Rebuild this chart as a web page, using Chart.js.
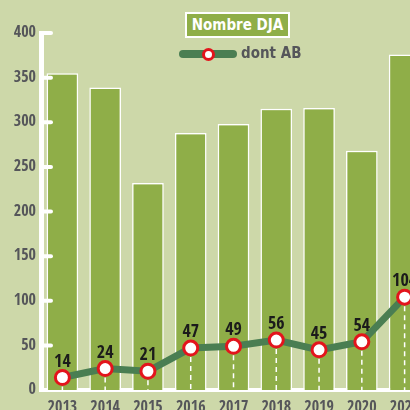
<!DOCTYPE html>
<html>
<head>
<meta charset="utf-8">
<script src="https://cdn.jsdelivr.net/npm/chart.js@4.4.1/dist/chart.umd.min.js"></script>
<style>
  html,body{margin:0;padding:0;background:#cdd8a9;overflow:hidden;}
  #wrap{position:relative;width:410px;height:410px;overflow:hidden;background:#cdd8a9;}
  #c{position:absolute;left:0;top:0;}
  .lg{position:absolute;font-family:"DejaVu Sans Condensed","DejaVu Sans",sans-serif;font-stretch:condensed;font-weight:bold;font-size:15px;}
  #lgBar{left:185px;top:12px;width:101px;height:22px;background:#8fae48;border:2px solid #fff;color:#fff;text-align:center;line-height:22px;}
  #lgLine{left:179px;top:50px;width:58px;height:8px;background:#4a7e52;border-radius:4px;}
  #lgDot{left:202px;top:48px;width:7px;height:7px;border:3px solid #e3141c;border-radius:50%;background:#fff;}
  #lgLineTxt{left:241px;top:44px;color:#55565a;line-height:18px;}
</style>
</head>
<body>
<div id="wrap">
  <canvas id="c" width="436" height="410"></canvas>
  <div class="lg" id="lgBar">Nombre DJA</div>
  <div class="lg" id="lgLine"></div>
  <div class="lg" id="lgDot"></div>
  <div class="lg" id="lgLineTxt">dont AB</div>
</div>
<script>
const years = ['2013','2014','2015','2016','2017','2018','2019','2020','2021'];
const djaValues = [355, 339, 232, 288, 298, 315, 316, 268, 376];
const abValues = [14, 24, 21, 47, 49, 56, 45, 54, 104];
const yMin = 0, yMax = 400, yStep = 50;

const FONT = '"Noto Sans ExtraCondensed","Open Sans Condensed","Noto Sans Condensed","DejaVu Sans Condensed",sans-serif';

const inwardTicks = {
  id: 'inwardTicks',
  afterDraw(chart) {
    const y = chart.scales.y, ctx = chart.ctx, left = chart.chartArea.left;
    ctx.save();
    ctx.strokeStyle = '#ffffff';
    ctx.lineWidth = 4;
    ctx.lineCap = 'round';
    y.ticks.forEach(t => {
      if (t.value === 0) return;
      const py = y.getPixelForValue(t.value);
      ctx.beginPath();
      ctx.moveTo(left, py);
      ctx.lineTo(left + 10, py);
      ctx.stroke();
    });
    ctx.restore();
  }
};

const dropLines = {
  id: 'dropLines',
  beforeDatasetDraw(chart, args) {
    if (args.index !== 1) return;
    const meta = chart.getDatasetMeta(1), ctx = chart.ctx;
    const bottom = chart.scales.y.getPixelForValue(0);
    ctx.save();
    ctx.strokeStyle = '#ffffff';
    ctx.lineWidth = 1.5;
    ctx.setLineDash([5, 4]);
    meta.data.forEach(p => {
      ctx.beginPath();
      ctx.moveTo(p.x, p.y + 9);
      ctx.lineTo(p.x, bottom);
      ctx.stroke();
    });
    ctx.restore();
  }
};

const valueLabels = {
  id: 'valueLabels',
  afterDatasetsDraw(chart) {
    const meta = chart.getDatasetMeta(1), ctx = chart.ctx;
    ctx.save();
    ctx.fillStyle = '#1b1b1b';
    ctx.font = 'bold 18px ' + FONT;
    ctx.textAlign = 'center';
    ctx.textBaseline = 'alphabetic';
    meta.data.forEach((p, i) => {
      ctx.fillText(String(abValues[i]), p.x, p.y - 11);
    });
    ctx.restore();
  }
};

new Chart(document.getElementById('c'), {
  data: {
    labels: years,
    datasets: [
      {
        type: 'bar',
        label: 'Nombre DJA',
        data: djaValues,
        backgroundColor: '#8fae48',
        borderColor: '#ffffff',
        borderWidth: 1.5,
        barPercentage: 0.74,
        categoryPercentage: 1,
        order: 2
      },
      {
        type: 'line',
        label: 'dont AB',
        data: abValues,
        borderColor: '#4a7e52',
        borderWidth: 7,
        tension: 0,
        pointRadius: 7,
        pointBorderWidth: 3,
        pointBorderColor: '#e3141c',
        pointBackgroundColor: '#ffffff',
        order: 1
      }
    ]
  },
  options: {
    responsive: false,
    animation: false,
    devicePixelRatio: 1,
    layout: { padding: { top: 33, left: 0, right: 0, bottom: 0 } },
    plugins: { legend: { display: false }, tooltip: { enabled: false } },
    scales: {
      x: {
        z: 1,
        grid: { display: false, drawTicks: false },
        border: { color: '#ffffff', width: 4 },
        ticks: { color: '#55565a', font: { family: FONT, weight: 'bold', size: 16 }, padding: 8, maxRotation: 0, autoSkip: false },
        afterFit: s => { s.height = 20; }
      },
      y: {
        min: yMin, max: yMax,
        grid: { display: false, drawTicks: false },
        border: { color: '#ffffff', width: 5 },
        ticks: { stepSize: yStep, color: '#55565a', font: { family: FONT, weight: 'bold', size: 16 }, padding: 5 },
        afterFit: s => { s.width = 41; }
      }
    }
  },
  plugins: [inwardTicks, dropLines, valueLabels]
});
</script>
</body>
</html>
